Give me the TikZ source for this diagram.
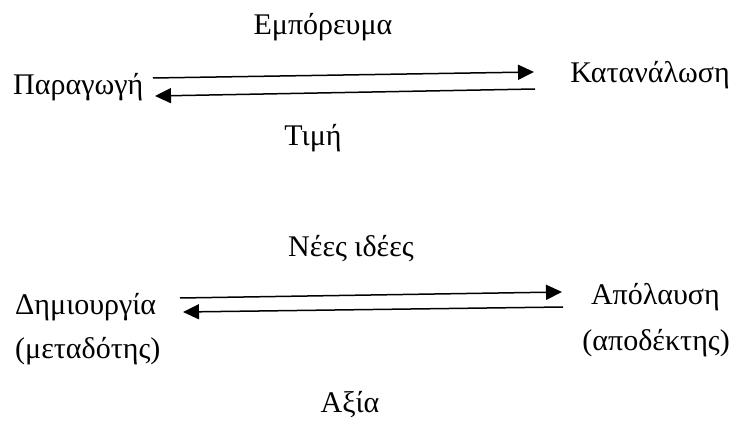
\documentclass[tikz,border=0pt]{standalone}
\usepackage{fontspec}
\setmainfont{Liberation Serif}
\usetikzlibrary{arrows.meta}
\begin{document}
\begin{tikzpicture}[x=1pt,y=-1pt,
  lbl/.style={font=\fontsize{30}{36}\selectfont, inner sep=0pt},
  flow/.style={line width=1.5pt, -{Triangle[length=16pt,width=15pt]}}]
\useasboundingbox (0,0) rectangle (733,427);
\node[lbl, anchor=base] (emp) at (323,35) {Εμπόρευμα};
\node[lbl, anchor=base west] (par) at (13,95) {Παραγωγή};
\node[lbl, anchor=base east] (kat) at (730,83) {Κατανάλωση};
\node[lbl, anchor=base] (tim) at (313,146) {Τιμή};
\coordinate (a1s) at (153,78);
\coordinate (a1e) at (534,72);
\coordinate (b1s) at (535,89);
\coordinate (b1e) at (155,96);
\draw[flow] (a1s) -- (a1e);
\draw[flow] (b1s) -- (b1e);
\node[lbl, anchor=base] (nee) at (351,257) {Νέες ιδέες};
\node[lbl, anchor=base west] (dim) at (15,315) {Δημιουργία};
\node[lbl, anchor=base west] (met) at (15,358) {(μεταδότης)};
\node[lbl, anchor=base east] (apo) at (720,305) {Απόλαυση};
\node[lbl, anchor=base east] (apd) at (730,350) {(αποδέκτης)};
\node[lbl, anchor=base] (axi) at (350,412) {Αξία};
\coordinate (a2s) at (180,298);
\coordinate (a2e) at (562,292);
\coordinate (b2s) at (563,307);
\coordinate (b2e) at (183,312);
\draw[flow] (a2s) -- (a2e);
\draw[flow] (b2s) -- (b2e);
\end{tikzpicture}
\end{document}
